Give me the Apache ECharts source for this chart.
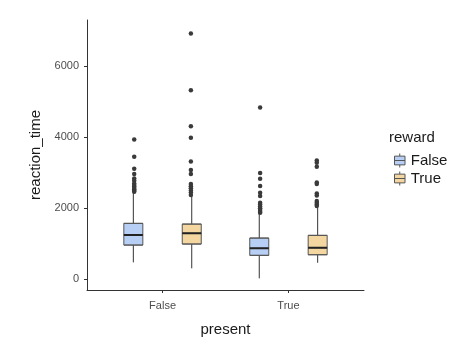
<!DOCTYPE html>
<html>
<head>
<meta charset="utf-8">
<script src="https://cdn.jsdelivr.net/npm/echarts@6/dist/echarts.min.js"></script>
<style>
  html, body { margin: 0; padding: 0; background: #fff; }
  #chart { width: 475px; height: 351px; }
</style>
</head>
<body>
<div id="chart"></div>
<script>
// x categories and the reward groups
const present = ['False', 'True'];
const rewards = ['False', 'True'];
const fills = ['#b8cff5', '#f3d6a0'];

// box stats [lower whisker, q1, median, q3, upper whisker], one per present level
const boxFalseReward = [[477, 963, 1244, 1573, 2444], [28, 674, 871, 1160, 1854]];
const boxTrueReward = [[309, 992, 1292, 1553, 2349], [466, 691, 888, 1236, 2011]];

// outliers per present level
const outFalseReward = [
  [3932, 3444, 3107, 2958, 2837, 2770, 2697, 2650, 2610, 2570, 2530, 2490, 2461],
  [4831, 2986, 2826, 2621, 2433, 2340, 2152, 2100, 2050, 2000, 1950, 1900, 1871]
];
const outTrueReward = [
  [6910, 5318, 4306, 3978, 3315, 3070, 2958, 2677, 2620, 2560, 2500, 2440, 2368],
  [3343, 3275, 3163, 2725, 2677, 2416, 2360, 2199, 2150, 2100, 2059]
];

const yTicks = [0, 2000, 4000, 6000];

// hidden fine axis: 44 slots of 0.05 units over 0.4..2.6
const slotCount = 44;
const slots = [];
for (let i = 0; i < slotCount; i++) slots.push(String(i));
const slotFalse = [7, 27];
const slotTrue = [16, 36];

// part: 'whisker' -> full range, 'box' -> q1..q3 only, 'median' -> flat line
function boxData(stats, idx, part) {
  let d = [];
  for (let i = 0; i < slotCount; i++) d.push('-');
  for (let n = 0; n < idx.length; n++) {
    let s = stats[n];
    if (part === 'whisker') d[idx[n]] = s;
    else if (part === 'box') d[idx[n]] = [s[1], s[1], s[2], s[3], s[3]];
    else d[idx[n]] = [s[2], s[2], s[2], s[2], s[2]];
  }
  return d;
}

function outData(list, idx) {
  let d = [];
  for (let n = 0; n < idx.length; n++) {
    for (let k = 0; k < list[n].length; k++) d.push([idx[n], list[n][k]]);
  }
  return d;
}

const chart = echarts.init(document.getElementById('chart'));

const font = 'Liberation Sans, Arial, sans-serif';
const keyIcon = 'path://M6,0V3M0,3H12V13H0ZM0,8H12M6,13V16';

function hiddenAxis() {
  return { type: 'category', data: slots, boundaryGap: true, show: false };
}

const groups = [
  { name: 'False', stats: boxFalseReward, idx: slotFalse, fill: fills[0] },
  { name: 'True', stats: boxTrueReward, idx: slotTrue, fill: fills[1] }
];

let series = [];
groups.forEach(function (g) {
  series.push({
    name: g.name + '_w',
    type: 'boxplot',
    xAxisIndex: 0,
    boxWidth: [0, 0],
    data: boxData(g.stats, g.idx, 'whisker'),
    itemStyle: { color: '#fff', borderColor: '#333', borderWidth: 1 },
    emphasis: { disabled: true },
    z: 2
  });
});
groups.forEach(function (g) {
  series.push({
    name: g.name,
    type: 'boxplot',
    xAxisIndex: 1,
    boxWidth: [19, 19],
    data: boxData(g.stats, g.idx, 'box'),
    itemStyle: { color: g.fill, borderColor: '#555', borderWidth: 1 },
    emphasis: { disabled: true },
    z: 3
  });
});
groups.forEach(function (g) {
  series.push({
    name: g.name + '_m',
    type: 'boxplot',
    xAxisIndex: 2,
    boxWidth: [19, 19],
    data: boxData(g.stats, g.idx, 'median'),
    itemStyle: { color: '#222', borderColor: '#222', borderWidth: 2 },
    emphasis: { disabled: true },
    z: 4
  });
});
series.push({
  name: 'outliers',
  type: 'scatter',
  xAxisIndex: 0,
  symbolSize: 4.5,
  data: outData(outFalseReward, slotFalse).concat(outData(outTrueReward, slotTrue)),
  itemStyle: { color: '#3a3a3a', opacity: 1 },
  z: 5
});

const options = {
  animation: false,
  textStyle: { fontFamily: font },
  grid: { left: 87, right: 111, top: 20, bottom: 61 },
  legend: {
    orient: 'vertical',
    left: 389,
    top: 148,
    itemWidth: 12,
    itemHeight: 14,
    itemGap: 3,
    data: [
      { name: 'False', icon: keyIcon, itemStyle: { color: fills[0], borderColor: '#555', borderWidth: 1 } },
      { name: 'True', icon: keyIcon, itemStyle: { color: fills[1], borderColor: '#555', borderWidth: 1 } }
    ],
    textStyle: { fontSize: 15, color: '#1a1a1a', fontFamily: font }
  },
  xAxis: [
    hiddenAxis(),
    hiddenAxis(),
    hiddenAxis(),
    {
      type: 'value',
      min: 0.4,
      max: 2.6,
      position: 'bottom',
      axisLine: { show: true, lineStyle: { color: '#333', width: 1 } },
      axisTick: { show: true, customValues: [1, 2], length: 3, lineStyle: { color: '#333' } },
      axisLabel: {
        customValues: [1, 2],
        formatter: function (v) { return present[Math.round(v) - 1]; },
        color: '#4d4d4d',
        fontSize: 11,
        margin: 10
      },
      splitLine: { show: false },
      name: 'present',
      nameLocation: 'middle',
      nameGap: 32,
      nameTextStyle: { fontSize: 15, color: '#1a1a1a' }
    }
  ],
  yAxis: {
    type: 'value',
    min: -300,
    max: 7290,
    axisLine: { show: true, lineStyle: { color: '#333', width: 1 } },
    axisTick: { show: true, customValues: yTicks, length: 3, lineStyle: { color: '#333' } },
    axisLabel: {
      customValues: yTicks,
      formatter: function (v) { return String(v); },
      color: '#4d4d4d',
      fontSize: 11,
      margin: 8
    },
    splitLine: { show: false },
    name: 'reaction_time',
    nameLocation: 'middle',
    nameGap: 42,
    nameTextStyle: { fontSize: 15, color: '#1a1a1a' }
  },
  graphic: [
    {
      type: 'text',
      left: 389,
      top: 130,
      style: { text: 'reward', font: '15px ' + font, fill: '#1a1a1a' }
    }
  ],
  series: series
};

chart.setOption(options);
</script>
</body>
</html>
